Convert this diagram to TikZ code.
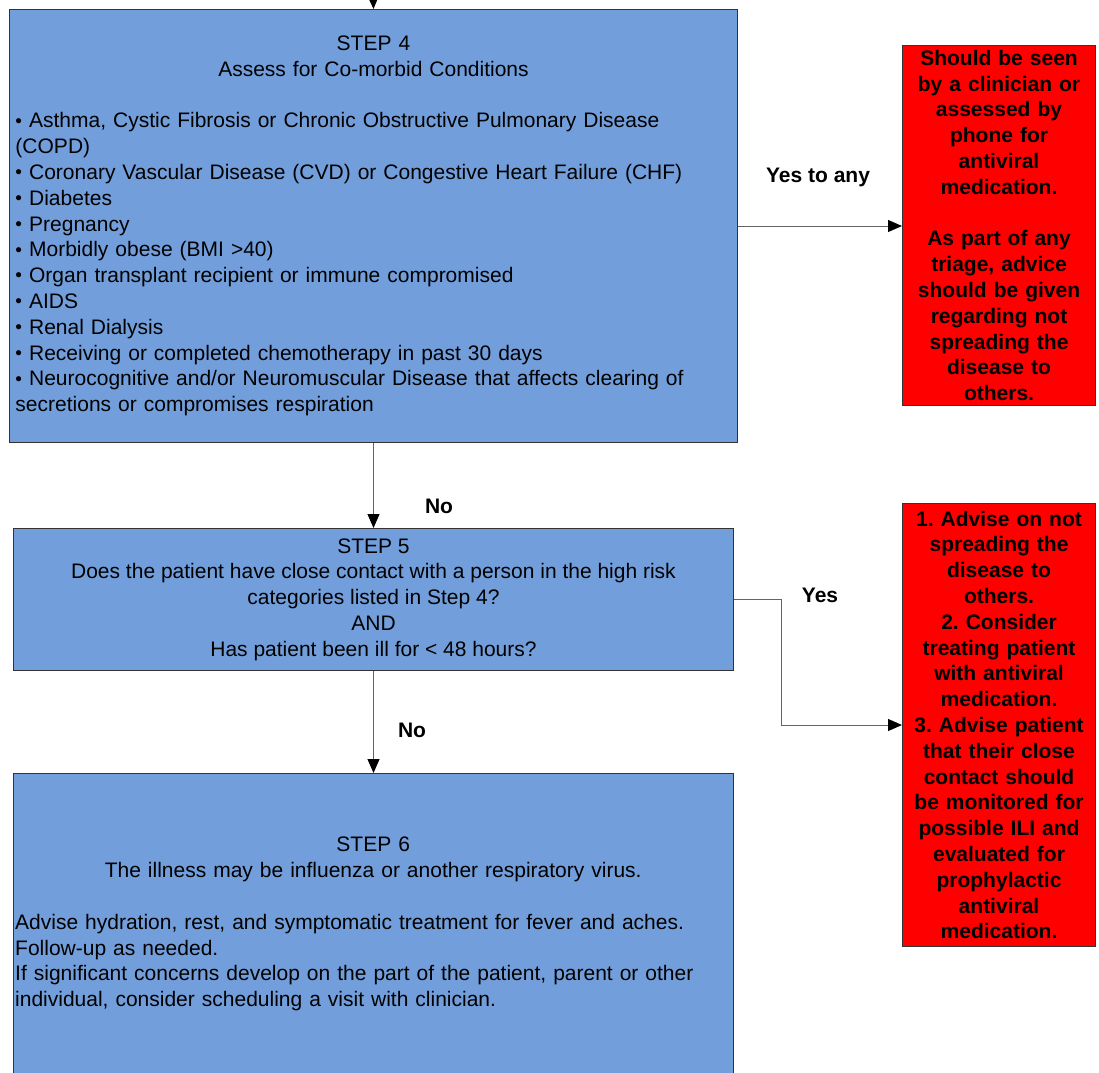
\documentclass[tikz,border=0pt]{standalone}
\usepackage{fontspec}
\setmainfont{Liberation Sans}
\usetikzlibrary{arrows.meta}
\definecolor{boxblue}{RGB}{114,159,219}
\definecolor{linegray}{RGB}{100,100,100}
\newcommand{\mybul}{{\fontsize{19}{19}\selectfont\raisebox{0.8pt}{\textbullet}}\ }
\frenchspacing
\begin{document}
\begin{tikzpicture}[x=1pt,y=-1pt,
  base/.style={font=\fontsize{21}{25.8}\selectfont\frenchspacing},
  bluebox/.style={base, draw=black!80, fill=boxblue, line width=1pt, anchor=north west, inner sep=0pt},
  redbox/.style={font=\fontsize{21}{25.8}\selectfont\bfseries\frenchspacing, draw=black!80, fill=red, line width=1pt, anchor=north west, inner sep=0pt, align=center},
  conn/.style={draw=linegray, line width=1pt, -{Triangle[length=14pt,width=12pt,fill=black,color=black]}},
  lbl/.style={font=\fontsize{21}{25.8}\selectfont\bfseries}
]
\useasboundingbox (0,0) rectangle (1099,1072);

\node[bluebox, minimum width=728pt, minimum height=433pt, text width=716pt] (s4) at (9,9)
{\centering STEP 4\\ Assess for Co-morbid Conditions\par\vspace{25.8pt}\raggedright
\mybul Asthma, Cystic Fibrosis or Chronic Obstructive Pulmonary Disease\\
(COPD)\\
\mybul Coronary Vascular Disease (CVD) or Congestive Heart Failure (CHF)\\
\mybul Diabetes\\
\mybul Pregnancy\\
\mybul Morbidly obese (BMI >40)\\
\mybul Organ transplant recipient or immune compromised\\
\mybul AIDS\\
\mybul Renal Dialysis\\
\mybul Receiving or completed chemotherapy in past 30 days\\
\mybul Neurocognitive and/or Neuromuscular Disease that affects clearing of\\
secretions or compromises respiration\par};

\node[bluebox, minimum width=720pt, minimum height=142pt, align=center] (s5) at (13,528)
{STEP 5\\Does the patient have close contact with a person in the high risk\\categories listed in Step 4?\\AND\\Has patient been ill for < 48 hours?};

\node[bluebox, minimum width=720pt, minimum height=320pt] (s6) at (13,773) {};
\node[base, anchor=north west, inner sep=0pt, text width=716pt] (s6t) at (15,837)
{\centering STEP 6\\ The illness may be influenza or another respiratory virus.\par\vspace{25.8pt}\raggedright
Advise hydration, rest, and symptomatic treatment for fever and aches.\\
Follow-up as needed.\\
If significant concerns develop on the part of the patient, parent or other\\
individual, consider scheduling a visit with clinician.\par};

\node[redbox, minimum width=193pt, minimum height=360pt, text width=191pt] (r1) at (902,45)
{Should be seen\\by a clinician or\\assessed by\\phone for\\antiviral\\medication.\\[25.8pt]As part of any\\triage, advice\\should be given\\regarding not\\spreading the\\disease to\\others.};

\node[redbox, minimum width=193pt, minimum height=443pt, text width=191pt] (r2) at (902,503)
{1. Advise on not\\spreading the\\disease to\\others.\\2. Consider\\treating patient\\with antiviral\\medication.\\3. Advise patient\\that their close\\contact should\\be monitored for\\possible ILI and\\evaluated for\\prophylactic\\antiviral\\medication.};

\coordinate (top) at (373,-10);
\draw[conn] (top) -- (s4.north);
\draw[conn] (s4.south) -- (s5.north);
\draw[conn] (s5.south) -- (s6.north);
\draw[conn] (s4.east) -- (s4.east -| r1.west);
\draw[conn] (s5.east) -- ++(47,0) |- (r2.west);

\node[lbl] (l1) at (818,177) {Yes to any};
\node[lbl] (l2) at (820,595) {Yes};
\node[lbl] (l3) at (439,506) {No};
\node[lbl] (l4) at (412,730) {No};
\end{tikzpicture}
\end{document}
